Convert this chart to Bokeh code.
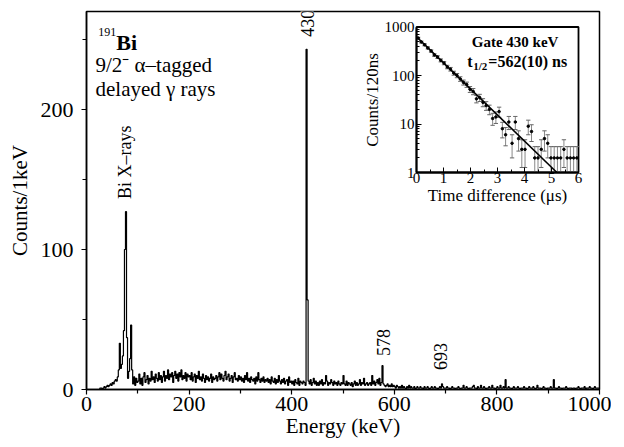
import math
from bokeh.plotting import figure
from bokeh.models import (Range1d, LinearAxis, LogScale, FixedTicker,
                          BasicTickFormatter, Label)
from bokeh.core.properties import value
from bokeh.embed import file_html
from bokeh.resources import INLINE

# ---------------- data: gamma spectrum (2 keV bins, counts per keV) -------------
bin_width_keV = 2
counts = [
    0, 0, 0, 0, 0, 0, 0, 0, 0, 0, 0, 0, 0, 1, 1, 0, 1, 2, 1, 2, 3, 2, 3, 4, 3,
    5, 4, 6, 7, 6, 9, 14, 33, 15, 18, 24, 42, 100, 127, 37, 8, 13, 22, 46, 14, 4, 9, 3, 8, 5,
    6, 11, 4, 8, 3, 9, 12, 5, 7, 10, 4, 8, 6, 13, 7, 9, 5, 11, 8, 6, 12, 7, 10, 5, 9,
    13, 6, 10, 8, 14, 7, 11, 9, 12, 5, 10, 13, 8, 11, 6, 12, 9, 14, 7, 10, 8, 12, 6, 11, 9,
    10, 7, 12, 6, 9, 11, 5, 10, 8, 13, 7, 9, 6, 11, 8, 5, 10, 7, 9, 6, 8, 11, 5, 9, 7,
    8, 10, 6, 9, 12, 7, 11, 8, 6, 10, 13, 7, 9, 11, 6, 8, 10, 5, 9, 12, 7, 8, 6, 10, 7,
    9, 6, 8, 5, 10, 7, 12, 6, 8, 5, 9, 7, 6, 8, 4, 9, 6, 12, 7, 5, 8, 6, 9, 5, 7,
    6, 8, 5, 7, 4, 9, 6, 5, 8, 4, 7, 5, 10, 6, 4, 7, 5, 8, 4, 6, 7, 3, 9, 5, 6,
    4, 6, 3, 7, 5, 4, 8, 3, 6, 5, 4, 6, 5, 3, 243, 64, 6, 4, 7, 3, 5, 8, 4, 6, 3,
    5, 3, 6, 4, 7, 3, 5, 4, 10, 6, 3, 5, 4, 7, 5, 3, 6, 4, 5, 3, 6, 4, 3, 5, 4,
    10, 4, 3, 6, 3, 5, 4, 3, 5, 2, 4, 6, 3, 5, 3, 4, 7, 3, 5, 4, 8, 3, 4, 5, 3,
    4, 5, 3, 10, 4, 6, 3, 5, 7, 4, 8, 3, 5, 17, 4, 3, 2, 3, 4, 2, 3, 2, 4, 2, 3,
    2, 1, 3, 2, 1, 2, 1, 3, 1, 2, 1, 0, 2, 1, 3, 1, 2, 1, 1, 2, 0, 1, 2, 1, 1,
    2, 1, 1, 0, 2, 1, 1, 2, 1, 0, 1, 2, 1, 1, 2, 1, 1, 0, 1, 2, 1, 4, 2, 1, 1,
    1, 2, 1, 1, 0, 1, 2, 1, 1, 0, 1, 1, 2, 1, 0, 1, 1, 3, 1, 1, 2, 1, 0, 1, 1,
    1, 2, 3, 1, 1, 0, 2, 1, 1, 3, 1, 1, 2, 1, 0, 1, 1, 2, 1, 1, 3, 1, 1, 0, 1,
    2, 1, 1, 3, 1, 1, 2, 1, 7, 1, 1, 2, 1, 1, 0, 1, 2, 1, 1, 1, 2, 1, 0, 1, 1,
    1, 2, 1, 1, 0, 1, 2, 1, 1, 1, 2, 1, 0, 1, 3, 1, 1, 1, 0, 1, 2, 1, 1, 0, 1,
    1, 1, 2, 1, 1, 7, 1, 1, 0, 1, 2, 1, 1, 0, 1, 1, 1, 2, 1, 0, 1, 1, 1, 0, 1,
    1, 0, 1, 1, 2, 1, 0, 1, 1, 1, 2, 0, 1, 1, 1, 2, 1, 1, 0, 1, 2, 1, 1, 1, 1,
]
energy_keV = [bin_width_keV * i + bin_width_keV / 2 for i in range(len(counts))]

peak_labels = ["430", "578", "693"]
peak_energies = [430, 578, 691]
xray_label = "Bi X\u2013rays"
xray_energy = 76

x_ticks = [0, 200, 400, 600, 800, 1000]
x_minor = [100, 300, 500, 700, 900]
y_ticks = [0, 100, 200]
y_minor = [50, 150, 250]

# ---------------- data: inset decay curve (120 ns bins) -------------
time_bin_us = 0.12
decay_counts = [590, 490, 430, 370, 320, 265, 240, 205, 180, 150,
                135, 112, 100, 85, 72, 65, 52, 47, 33, 35,
                28, 24, 20, 13, 14, 18, 8, 6, 11, 4,
                11, 5, 3, 3, 9, 7, 2, 2, 3, 5,
                4, 2, 2, 2, 2, 3, 2, 2, 2, 2]
decay_time_us = [time_bin_us * i + time_bin_us / 2 for i in range(len(decay_counts))]
fit_time_us = [0.0, 5.2]
fit_counts = [630, 1]
inset_t_ticks = [0, 1, 2, 3, 4, 5, 6]
inset_t_minor = [0.5, 1.5, 2.5, 3.5, 4.5, 5.5]
inset_c_ticks = [1, 10, 100, 1000]
inset_c_minor = [m * d for d in (1, 10, 100) for m in range(2, 10)]

# ---------------- layout constants -------------
FONT = "Liberation Serif"
FW, FH = 513, 378
IL, IR, IT, IB = 330, 492, 15.5, 161   # inset box inside frame (px)

p = figure(frame_width=FW, frame_height=FH,
           x_range=Range1d(0, 1000), y_range=Range1d(0, 270),
           output_backend="svg", toolbar_location=None,
           min_border_left=86, min_border_right=12,
           min_border_top=11, min_border_bottom=46)
p.xgrid.visible = False
p.ygrid.visible = False
p.outline_line_color = "black"
p.outline_line_width = 1.5
p.background_fill_color = "white"
p.border_fill_color = "white"

for ax in (p.xaxis[0], p.yaxis[0]):
    ax.axis_line_width = 1.5
    ax.major_tick_out = 5
    ax.major_tick_in = 0
    ax.minor_tick_out = 4
    ax.minor_tick_in = 0
    ax.major_tick_line_width = 1.2
    ax.minor_tick_line_width = 1.2
    ax.major_label_text_font = FONT
    ax.major_label_text_font_size = "22px"
    ax.major_label_text_color = "black"
    ax.axis_label_text_font = FONT
    ax.axis_label_text_font_size = "21px"
    ax.axis_label_text_font_style = "normal"
    ax.axis_label_text_color = "black"

p.xaxis[0].ticker = FixedTicker(ticks=x_ticks, minor_ticks=x_minor)
p.yaxis[0].ticker = FixedTicker(ticks=y_ticks, minor_ticks=y_minor)
p.xaxis[0].axis_label = "Energy (keV)"
p.yaxis[0].axis_label = "Counts/1keV"
p.xaxis[0].major_label_standoff = 2
p.xaxis[0].axis_label_standoff = 0
p.yaxis[0].major_label_standoff = 8
p.yaxis[0].axis_label_standoff = 6

# spectrum
p.step(energy_keV, counts, mode="center", line_color="black", line_width=1.2)

# peak labels
lab_y = [252, 24, 14]
for txt, e, yy in zip(peak_labels, peak_energies, lab_y):
    p.add_layout(Label(x=e, y=yy, text=txt, angle=math.pi / 2,
                       text_align="left", text_baseline="middle",
                       text_font=FONT, text_font_size="18px",
                       text_color="black",
                       background_fill_color="white" if txt == "430" else None,
                       level="overlay"))
p.add_layout(Label(x=xray_energy, y=136, text=xray_label, angle=math.pi / 2,
                   text_align="left", text_baseline="middle",
                   text_font=FONT, text_font_size="18px", text_color="black"))

# nucleus title
p.text(x=[23], y=[250], text=["191"], text_font=value(FONT),
       text_font_size="12px", text_baseline="alphabetic", y_offset=-8)
p.text(x=[23], y=[248], text=["Bi"], text_font=value(FONT),
       text_font_size="22px", text_font_style="bold",
       text_baseline="alphabetic", x_offset=18)
p.text(x=[17.5], y=[232], text=["9/2\u207b \u03b1\u2013tagged"],
       text_font=value(FONT), text_font_size="21px",
       text_baseline="alphabetic")
p.text(x=[17.5], y=[215], text=["delayed \u03b3 rays"],
       text_font=value(FONT), text_font_size="21px",
       text_baseline="alphabetic")

# ---------------- inset via extra ranges -------------
px_per_us = (IR - IL) / 6.0
px_per_dec = (IB - IT) / 3.0
ix0 = 0 - IL / px_per_us
ix1 = 6 + (FW - IR) / px_per_us
iy0 = 10 ** (0 - (FH - IB) / px_per_dec)
iy1 = 10 ** (3 + IT / px_per_dec)
p.extra_x_ranges = {"ix": Range1d(ix0, ix1)}
p.extra_y_ranges = {"iy": Range1d(iy0, iy1)}
p.extra_y_scales = {"iy": LogScale()}

# inset box
p.quad(left=[inset_t_ticks[0]], right=[inset_t_ticks[-1]],
       bottom=[inset_c_ticks[0]], top=[inset_c_ticks[-1]],
       fill_color=None, line_color="black", line_width=1.8,
       x_range_name="ix", y_range_name="iy")

# error bars
lo = [max(c - math.sqrt(c), 1) for c in decay_counts]
hi = [c + math.sqrt(c) for c in decay_counts]
p.segment(x0=decay_time_us, y0=lo, x1=decay_time_us, y1=hi,
          line_color="#888888", line_width=1,
          x_range_name="ix", y_range_name="iy")
cap = 0.08
p.segment(x0=[t - cap for t in decay_time_us], y0=hi,
          x1=[t + cap for t in decay_time_us], y1=hi,
          line_color="#666666", line_width=1,
          x_range_name="ix", y_range_name="iy")
lcap_t = [t for t, c in zip(decay_time_us, decay_counts) if c - math.sqrt(c) > 1]
lcap_v = [c - math.sqrt(c) for c in decay_counts if c - math.sqrt(c) > 1]
p.segment(x0=[t - cap for t in lcap_t], y0=lcap_v,
          x1=[t + cap for t in lcap_t], y1=lcap_v,
          line_color="#666666", line_width=1,
          x_range_name="ix", y_range_name="iy")
p.scatter(decay_time_us, decay_counts, size=2.5, color="black",
          x_range_name="ix", y_range_name="iy")
p.line(fit_time_us, fit_counts, line_color="black", line_width=1.6,
       x_range_name="ix", y_range_name="iy")

ibx = LinearAxis(x_range_name="ix", y_range_name="iy", fixed_location=1,
                 bounds=(0, 6),
                 ticker=FixedTicker(ticks=inset_t_ticks, minor_ticks=inset_t_minor),
                 axis_label="Time difference (\u03bcs)")
ily = LinearAxis(x_range_name="ix", y_range_name="iy", fixed_location=0,
                 bounds=(1, 1000),
                 ticker=FixedTicker(ticks=inset_c_ticks, minor_ticks=inset_c_minor),
                 formatter=BasicTickFormatter(),
                 axis_label="Counts/120ns")
for ax in (ibx, ily):
    ax.axis_line_width = 1.8
    ax.major_tick_in = 5
    ax.major_tick_out = 0
    ax.minor_tick_in = 3
    ax.minor_tick_out = 0
    ax.major_label_text_font = FONT
    ax.major_label_text_font_size = "15px"
    ax.major_label_text_color = "black"
    ax.major_label_standoff = 2
    ax.axis_label_text_font = FONT
    ax.axis_label_text_font_size = "17px"
    ax.axis_label_text_font_style = "normal"
    ax.axis_label_text_color = "black"
    ax.axis_label_standoff = 0
ibx.major_label_standoff = 0
p.add_layout(ibx, "below")
p.add_layout(ily, "left")

# inset annotation
p.text(x=[3.65], y=[500], text=["Gate 430 keV"], text_font=value(FONT),
       text_font_size="15px", text_font_style="bold", text_align="center",
       text_baseline="middle", x_range_name="ix", y_range_name="iy")
p.text(x=[1.88], y=[195], text=["t"], text_font=value(FONT),
       text_font_size="16px", text_font_style="bold", text_align="left",
       text_baseline="middle", x_range_name="ix", y_range_name="iy")
p.text(x=[1.88], y=[195], text=["1/2"], text_font=value(FONT),
       text_font_size="11px", text_font_style="bold", text_align="left",
       text_baseline="middle", x_offset=6, y_offset=5,
       x_range_name="ix", y_range_name="iy")
p.text(x=[1.88], y=[195], text=["=562(10) ns"], text_font=value(FONT),
       text_font_size="16px", text_font_style="bold", text_align="left",
       text_baseline="middle", x_offset=21,
       x_range_name="ix", y_range_name="iy")

open("out.html", "w").write(file_html(p, INLINE))
